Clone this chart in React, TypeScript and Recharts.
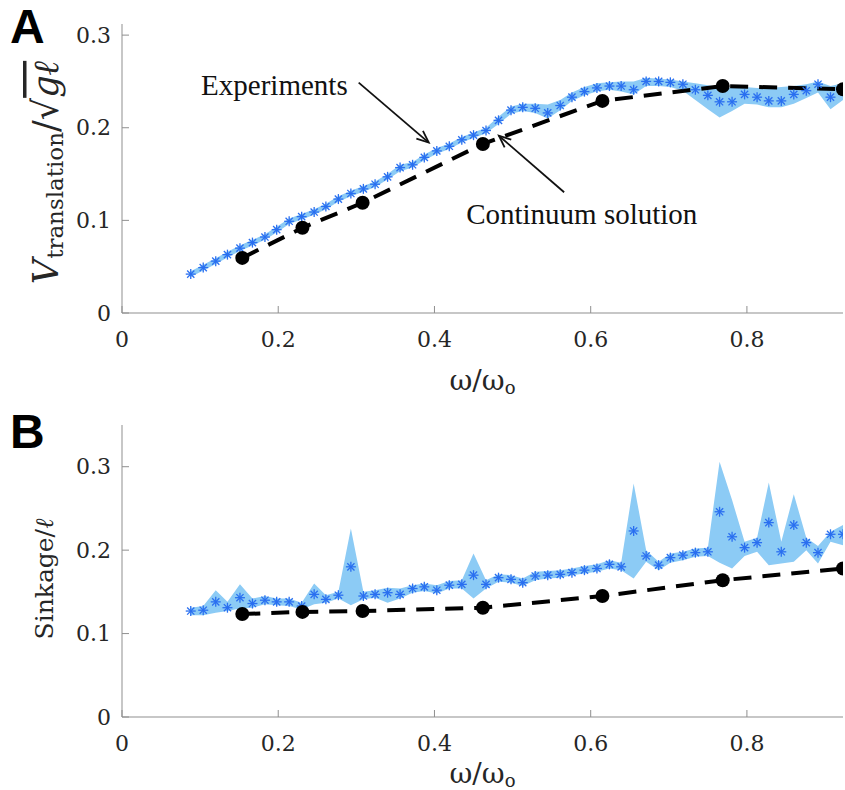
import React from "react"
import {
  ComposedChart,
  Line,
  Area,
  XAxis,
  YAxis,
  ReferenceLine,
} from "recharts"

// omega / omega_o sample positions for the experiment series
const X_EXP = [
  0.088, 0.104, 0.120, 0.135, 0.151, 0.167, 0.183, 0.198, 0.214, 0.230,
  0.246, 0.261, 0.277, 0.293, 0.309, 0.324, 0.340, 0.356, 0.372, 0.387,
  0.403, 0.419, 0.435, 0.450, 0.466, 0.482, 0.498, 0.513, 0.529, 0.545,
  0.561, 0.576, 0.592, 0.608, 0.624, 0.639, 0.655, 0.671, 0.687, 0.702,
  0.718, 0.734, 0.750, 0.765, 0.781, 0.797, 0.813, 0.828, 0.844, 0.860,
  0.876, 0.891, 0.907, 0.923,
]

// panel A : translation speed
const A_EXP = [
  0.042, 0.049, 0.056, 0.063, 0.070, 0.076, 0.082, 0.090, 0.099, 0.104,
  0.109, 0.115, 0.123, 0.129, 0.134, 0.139, 0.147, 0.157, 0.160, 0.168,
  0.175, 0.180, 0.187, 0.192, 0.197, 0.208, 0.219, 0.222, 0.221, 0.216,
  0.224, 0.233, 0.239, 0.243, 0.245, 0.245, 0.241, 0.250, 0.250, 0.249,
  0.247, 0.241, 0.235, 0.228, 0.228, 0.236, 0.233, 0.229, 0.229, 0.236,
  0.240, 0.247, 0.233, 0.242,
]
const A_LO = [
  0.039, 0.046, 0.053, 0.060, 0.067, 0.073, 0.079, 0.087, 0.096, 0.101,
  0.106, 0.112, 0.120, 0.126, 0.131, 0.136, 0.144, 0.153, 0.157, 0.165,
  0.172, 0.177, 0.184, 0.189, 0.194, 0.204, 0.215, 0.218, 0.216, 0.210,
  0.219, 0.229, 0.235, 0.239, 0.241, 0.239, 0.236, 0.245, 0.245, 0.244,
  0.240, 0.230, 0.220, 0.211, 0.218, 0.226, 0.225, 0.222, 0.222, 0.226,
  0.232, 0.238, 0.220, 0.230,
]
const A_HI = [
  0.045, 0.052, 0.059, 0.066, 0.073, 0.079, 0.085, 0.093, 0.102, 0.107,
  0.112, 0.118, 0.126, 0.132, 0.137, 0.142, 0.150, 0.160, 0.163, 0.171,
  0.178, 0.183, 0.190, 0.195, 0.200, 0.212, 0.223, 0.226, 0.226, 0.225,
  0.230, 0.238, 0.244, 0.248, 0.249, 0.250, 0.250, 0.254, 0.253, 0.252,
  0.250, 0.248, 0.246, 0.244, 0.243, 0.244, 0.243, 0.243, 0.244, 0.245,
  0.247, 0.250, 0.245, 0.248,
]

// panel B : sinkage
const B_EXP = [
  0.127, 0.128, 0.138, 0.131, 0.143, 0.136, 0.140, 0.138, 0.138, 0.133,
  0.147, 0.141, 0.146, 0.180, 0.145, 0.147, 0.149, 0.147, 0.154, 0.156,
  0.152, 0.158, 0.159, 0.170, 0.159, 0.167, 0.165, 0.161, 0.169, 0.170,
  0.171, 0.173, 0.176, 0.178, 0.183, 0.180, 0.223, 0.193, 0.182, 0.191,
  0.194, 0.197, 0.198, 0.246, 0.216, 0.203, 0.209, 0.233, 0.198, 0.230,
  0.209, 0.197, 0.219, 0.219,
]
const B_LO = [
  0.122, 0.122, 0.125, 0.127, 0.130, 0.131, 0.135, 0.134, 0.133, 0.129,
  0.135, 0.137, 0.142, 0.134, 0.141, 0.143, 0.137, 0.142, 0.149, 0.151,
  0.148, 0.154, 0.154, 0.142, 0.154, 0.162, 0.161, 0.157, 0.164, 0.166,
  0.167, 0.170, 0.172, 0.174, 0.178, 0.176, 0.166, 0.186, 0.176, 0.185,
  0.188, 0.192, 0.193, 0.185, 0.178, 0.193, 0.198, 0.182, 0.184, 0.186,
  0.200, 0.184, 0.210, 0.206,
]
const B_HI = [
  0.131, 0.133, 0.152, 0.138, 0.159, 0.142, 0.145, 0.142, 0.142, 0.137,
  0.160, 0.146, 0.150, 0.226, 0.150, 0.152, 0.155, 0.154, 0.158, 0.160,
  0.158, 0.163, 0.164, 0.196, 0.164, 0.171, 0.170, 0.166, 0.174, 0.175,
  0.176, 0.178, 0.181, 0.183, 0.188, 0.185, 0.280, 0.200, 0.186, 0.196,
  0.198, 0.202, 0.203, 0.306, 0.260, 0.210, 0.215, 0.281, 0.210, 0.267,
  0.215, 0.205, 0.222, 0.230,
]

// continuum solution
const X_CONT = [0.154, 0.231, 0.308, 0.462, 0.615, 0.769, 0.923]
const A_CONT = [0.0595, 0.092, 0.119, 0.1825, 0.229, 0.245, 0.2416]
const B_CONT = [0.1234, 0.126, 0.127, 0.131, 0.145, 0.164, 0.178]

const X_TICKS = [0, 0.2, 0.4, 0.6, 0.8]
const Y_TICKS = [0, 0.1, 0.2, 0.3]

const AXIS = "#8f8f8f"
const TXT = "#262626"
const BAND = "#8ccbf5"
const STAR = "#2a6ff0"
const SERIF = "'DejaVu Serif', serif"

const expA = X_EXP.map((x, i) => ({ x, y: A_EXP[i], band: [A_LO[i], A_HI[i]] }))
const expB = X_EXP.map((x, i) => ({ x, y: B_EXP[i], band: [B_LO[i], B_HI[i]] }))
const contA = X_CONT.map((x, i) => ({ x, y: A_CONT[i] }))
const contB = X_CONT.map((x, i) => ({ x, y: B_CONT[i] }))

const fmt = (v: number) => String(Math.round(v * 10) / 10)

const BottomTick = ({ x, y, payload }: any) => (
  <g>
    <line x1={x} x2={x} y1={y} y2={y - 7} stroke={AXIS} />
    <text x={x} y={y + 26} textAnchor="middle" dominantBaseline="central"
      fontFamily={SERIF} fontSize={22} fill={TXT}>
      {fmt(payload.value)}
    </text>
  </g>
)

const LeftTick = ({ x, y, payload }: any) => (
  <g>
    <line x1={x} x2={x + 7} y1={y} y2={y} stroke={AXIS} />
    <text x={x - 11} y={y} textAnchor="end" dominantBaseline="central"
      fontFamily={SERIF} fontSize={22} fill={TXT}>
      {fmt(payload.value)}
    </text>
  </g>
)

const TopTick = ({ x, y }: any) => (
  <line x1={x} x2={x} y1={y} y2={y + 7} stroke={AXIS} />
)

const RightTick = ({ x, y }: any) => (
  <line x1={x} x2={x - 7} y1={y} y2={y} stroke={AXIS} />
)

const StarDot = ({ cx, cy }: any) => {
  if (cx == null || cy == null) return null
  const r = 5
  const d = 3.6
  return (
    <g stroke={STAR} strokeWidth={1.3}>
      <line x1={cx - r} x2={cx + r} y1={cy} y2={cy} />
      <line x1={cx} x2={cx} y1={cy - r} y2={cy + r} />
      <line x1={cx - d} x2={cx + d} y1={cy - d} y2={cy + d} />
      <line x1={cx - d} x2={cx + d} y1={cy + d} y2={cy - d} />
    </g>
  )
}

const OmegaLabel = (dy: number) => ({ viewBox }: any) => {
  const cx = viewBox.x + viewBox.width / 2
  return (
    <text x={cx} y={viewBox.y + dy} textAnchor="middle" dominantBaseline="central"
      fontFamily={SERIF} fontSize={28} fill={TXT}>
      ω/ω<tspan fontSize={18} dy={7}>o</tspan>
    </text>
  )
}

const SpeedLabel = ({ viewBox }: any) => {
  const cx = 46
  const cy = viewBox.y + viewBox.height / 2 + 4
  return (
    <text x={cx} y={cy} transform={`rotate(-90 ${cx} ${cy})`} textAnchor="middle"
      dominantBaseline="central" fontFamily={SERIF} fontSize={35} fill={TXT}>
      <tspan fontStyle="italic">V</tspan>
      <tspan fontSize={23} dy={9}>translation</tspan>
      <tspan dy={-9}>/√</tspan>
      <tspan fontStyle="italic" textDecoration="overline">gℓ</tspan>
    </text>
  )
}

const SinkLabel = ({ viewBox }: any) => {
  const cx = 44
  const cy = viewBox.y + viewBox.height / 2 + 8
  return (
    <text x={cx} y={cy} transform={`rotate(-90 ${cx} ${cy})`} textAnchor="middle"
      dominantBaseline="central" fontFamily={SERIF} fontSize={25} fill={TXT}>
      Sinkage/<tspan fontStyle="italic">ℓ</tspan>
    </text>
  )
}

const arrow = (text: string, anchor: "start" | "end", tdx: number, tdy: number) => (p: any) => {
  const { x1, y1, x2, y2 } = p
  const a = Math.atan2(y2 - y1, x2 - x1)
  const h = 13
  const w = 0.4
  return (
    <g>
      <line x1={x1} y1={y1} x2={x2} y2={y2} stroke="#111" strokeWidth={1.8} />
      <polyline
        points={`${x2 - h * Math.cos(a - w)},${y2 - h * Math.sin(a - w)} ${x2},${y2} ${x2 - h * Math.cos(a + w)},${y2 - h * Math.sin(a + w)}`}
        fill="none" stroke="#111" strokeWidth={1.8}
      />
      <text x={x1 + tdx} y={y1 + tdy} textAnchor={anchor}
        fontFamily="'Liberation Serif', serif" fontSize={29} fill="#111">
        {text}
      </text>
    </g>
  )
}

function Panel({ exp, cont, yMax, height, top, plotH, xLabelDy, yLabel, children }: any) {
  return (
    <ComposedChart width={845} height={height}
      margin={{ top, right: 2, bottom: 0, left: 0 }}>
      <XAxis dataKey="x" type="number" domain={[0, 0.923]} ticks={X_TICKS}
        interval={0} allowDataOverflow height={height - top - plotH}
        tickSize={0} tickMargin={0} tick={<BottomTick />} tickLine={false}
        axisLine={{ stroke: AXIS }} label={{ content: OmegaLabel(xLabelDy) }} />
      <XAxis xAxisId="top" orientation="top" dataKey="x" type="number" domain={[0, 0.923]}
        ticks={X_TICKS} interval={0} height={0} tickSize={0} tickMargin={0}
        tick={<TopTick />} tickLine={false} axisLine={{ stroke: AXIS }} />
      <YAxis type="number" domain={[0, yMax]} ticks={Y_TICKS} interval={0} width={122}
        allowDataOverflow tickSize={0} tickMargin={0} tick={<LeftTick />} tickLine={false}
        axisLine={{ stroke: AXIS }} label={{ content: yLabel }} />
      <YAxis yAxisId="right" orientation="right" type="number" domain={[0, yMax]}
        ticks={Y_TICKS} interval={0} width={0} tickSize={0} tickMargin={0}
        tick={<RightTick />} tickLine={false} axisLine={{ stroke: AXIS }} />
      <Area data={exp} dataKey="band" type="linear" stroke="none" fill={BAND}
        fillOpacity={1} isAnimationActive={false} activeDot={false} />
      <Line data={exp} dataKey="y" type="linear" stroke="none" dot={<StarDot />}
        activeDot={false} isAnimationActive={false} />
      <Line data={cont} dataKey="y" type="linear" stroke="#000" strokeWidth={4}
        strokeDasharray="18 11" dot={{ r: 7, fill: "#000", stroke: "#000", strokeWidth: 0 }}
        activeDot={false} isAnimationActive={false} />
      {children}
    </ComposedChart>
  )
}

const panelLetter: React.CSSProperties = {
  position: "absolute",
  left: 10,
  fontFamily: "'Liberation Sans', Arial, sans-serif",
  fontWeight: 700,
  fontSize: 48,
  lineHeight: 1,
  color: "#000",
}

export default function App() {
  return (
    <div style={{ position: "absolute", left: 0, top: 0, width: 845, height: 790, background: "#fff" }}>
      <div style={{ position: "absolute", left: 0, top: 0 }}>
        <Panel exp={expA} cont={contA} yMax={0.312} height={400} top={24} plotH={289}
          xLabelDy={67} yLabel={SpeedLabel}>
          <ReferenceLine segment={[{ x: 0.303, y: 0.2487 }, { x: 0.3927, y: 0.184 }]}
            shape={arrow("Experiments", "end", -11, 12)} />
          <ReferenceLine segment={[{ x: 0.566, y: 0.1304 }, { x: 0.4825, y: 0.1914 }]}
            shape={arrow("Continuum solution", "start", -98, 32)} />
        </Panel>
      </div>
      <div style={{ position: "absolute", left: 0, top: 400 }}>
        <Panel exp={expB} cont={contB} yMax={0.35} height={390} top={25} plotH={292}
          xLabelDy={56} yLabel={SinkLabel} />
      </div>
      <div style={{ ...panelLetter, top: 3 }}>A</div>
      <div style={{ ...panelLetter, top: 408 }}>B</div>
    </div>
  )
}
